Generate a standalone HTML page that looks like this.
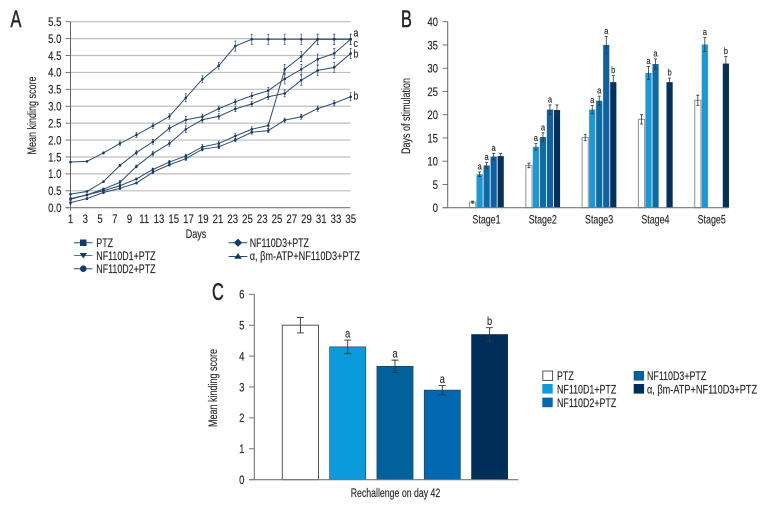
<!DOCTYPE html>
<html>
<head>
<meta charset="utf-8">
<style>
html,body{margin:0;padding:0;background:#fff;width:780px;height:516px;overflow:hidden}
svg{display:block}
text{font-family:"Liberation Sans",sans-serif;fill:#262626;stroke:#262626;stroke-width:.15}
.big{stroke-width:.5}
</style>
</head>
<body>
<svg id="fig" width="780" height="516" viewBox="0 0 780 516" xmlns="http://www.w3.org/2000/svg">
  <rect width="780" height="516" fill="#fff"/>
  <g id="panelA"></g>
  <g id="panelB"></g>
  <g id="panelC"></g>

  <text class="big" transform="translate(10.5,27) scale(.68,1)" font-size="24">A</text>
  <text class="big" transform="translate(401,27) scale(.68,1)" font-size="24">B</text>
  <text class="big" transform="translate(212,300) scale(.68,1)" font-size="24">C</text>

  <text transform="translate(36,115.5) rotate(-90) scale(.75,1)" font-size="12" text-anchor="middle">Mean kinding score</text>
  <text transform="translate(196,238) scale(.75,1)" font-size="12" text-anchor="middle">Days</text>
  <text transform="translate(410,116) rotate(-90) scale(.75,1)" font-size="12" text-anchor="middle">Days of stimulation</text>
  <text transform="translate(217,388) rotate(-90) scale(.75,1)" font-size="12" text-anchor="middle">Mean kinding score</text>
  <text transform="translate(395.5,497) scale(.73,1)" font-size="12" text-anchor="middle">Rechallenge on day 42</text>

  <g stroke-width="1">
    <g>
      <line x1="74" x2="92.5" y1="242.7" y2="242.7" stroke="#2c4a70"/><rect x="80" y="239.5" width="6.5" height="6.5" fill="#123a68"/>
      <text transform="translate(96.3,246.8) scale(.74,1)" font-size="12">PTZ</text>
    </g>
    <g>
      <line x1="74" x2="92.5" y1="255.5" y2="255.5" stroke="#5a7592"/><path d="M79.7 253H87L83.3 258.5Z" fill="#123a68"/>
      <text transform="translate(96.3,260) scale(.74,1)" font-size="12">NF110D1+PTZ</text>
    </g>
    <g>
      <line x1="74" x2="92.5" y1="268.7" y2="268.7" stroke="#2c4a70"/><circle cx="83.3" cy="268.7" r="3.3" fill="#123a68"/>
      <text transform="translate(96.3,273) scale(.74,1)" font-size="12">NF110D2+PTZ</text>
    </g>
    <g>
      <line x1="228.7" x2="247.3" y1="242.7" y2="242.7" stroke="#2c4a70"/><path d="M238 238.6L242.2 242.7L238 246.8L233.8 242.7Z" fill="#123a68"/>
      <text transform="translate(249.7,247) scale(.74,1)" font-size="12">NF110D3+PTZ</text>
    </g>
    <g>
      <line x1="228.7" x2="247.3" y1="256.5" y2="256.5" stroke="#2c4a70"/><path d="M238 253L241.8 258.8H234.2Z" fill="#123a68"/>
      <text transform="translate(249.7,260) scale(.765,1)" font-size="12">α, βm-ATP+NF110D3+PTZ</text>
    </g>
  </g>

  <g>
    <g>
      <rect x="542.8" y="371" width="9.8" height="9.4" fill="#fff" stroke="#444" stroke-width=".9"/>
      <text transform="translate(557,379.8) scale(.74,1)" font-size="12">PTZ</text>
    </g>
    <g>
      <rect x="542.3" y="384" width="10.4" height="9.6" fill="#0a9bdc"/>
      <text transform="translate(557,393.3) scale(.74,1)" font-size="12">NF110D1+PTZ</text>
    </g>
    <g>
      <rect x="542.3" y="397.6" width="10.4" height="9.6" fill="#0168b0"/>
      <text transform="translate(557,407) scale(.74,1)" font-size="12">NF110D2+PTZ</text>
    </g>
    <g>
      <rect x="633.7" y="371" width="10.4" height="9.6" fill="#02619c"/>
      <text transform="translate(647,379.8) scale(.74,1)" font-size="12">NF110D3+PTZ</text>
    </g>
    <g>
      <rect x="633.7" y="384" width="10.4" height="9.6" fill="#002d59"/>
      <text transform="translate(647,393.3) scale(.765,1)" font-size="12">α, βm-ATP+NF110D3+PTZ</text>
    </g>
  </g>
</svg>
<script>
/* Panel A data */
const aTickValues = [0,0.5,1,1.5,2,2.5,3,3.5,4,4.5,5,5.5];
const aTickLabels = ['0.0','0.5','1.0','1.5','2.0','2.5','3.0','3.5','4.0','4.5','5.0','5.5'];
const aDayLabels = ['1','3','5','7','9','11','13','15','17','19','21','23','25','23','25','27','29','31','33','35'];
const aPtz = [1.35,1.37,1.62,1.9,2.15,2.42,2.7,3.25,3.8,4.2,4.78,4.98,4.98,4.98,4.98,4.98,4.98,4.98];
const aPtzErr = [.02,.02,.03,.07,.07,.08,.08,.12,.1,.1,.15,.15,.15,.15,.15,.15,.15,.15];
const aD1 = [.25,.38,.5,.65,.85,1.13,1.35,1.53,1.8,1.9,2.12,2.32,2.43,4.09,4.47,4.98,4.98,4.98];
const aD1Err = [.03,.03,.03,.03,.03,.04,.05,.05,.07,.07,.07,.07,.08,.15,.15,.15,.15,.15];
const aD2 = [.4,.48,.77,1.25,1.63,1.95,2.35,2.6,2.69,2.93,3.13,3.31,3.46,3.81,4.09,4.39,4.56,4.98];
const aD2Err = [.02,.02,.02,.03,.07,.07,.09,.1,.08,.08,.08,.09,.1,.15,.15,.15,.15,.15];
const aD3 = [.27,.38,.55,.75,1.22,1.6,1.9,2.32,2.6,2.7,2.92,3.07,3.28,3.38,3.77,4.06,4.15,4.56];
const aD3Err = [.03,.03,.03,.06,.04,.07,.08,.1,.07,.08,.08,.07,.08,.1,.15,.15,.15,.15];
const aAtp = [.15,.27,.45,.57,.73,1.05,1.27,1.45,1.73,1.8,2,2.23,2.28,2.59,2.69,2.93,3.09,3.28];
const aAtpErr = [.05,.03,.03,.03,.03,.04,.04,.05,.05,.05,.05,.06,.06,.06,.07,.08,.08,.12];
const aEndLetters = ['a','c','b','b'];
const aEndValues = [5.16,4.86,4.55,3.3];

/* Panel B data */
const bTickValues = [0,5,10,15,20,25,30,35,40];
const bStages = ['Stage1','Stage2','Stage3','Stage4','Stage5'];
const bPtz = [1.2,9.1,15.1,19,23.1];
const bD1 = [7.2,13.1,21.1,29,35.1];
const bD2 = [9.1,15.2,23,30.9,0];
const bD3 = [11,21.1,35,0,0];
const bAtp = [11.1,21,27,27,31];
const bPtzErr = [.2,.5,.7,1,1.1];
const bD1Err = [.5,.7,.9,1.4,1.5];
const bD2Err = [.6,.9,1,1.1,0];
const bD3Err = [.7,1,1.8,0,0];
const bAtpErr = [.6,1.1,1.4,.9,1.5];
const bD1Marks = ['a','a','a','a','a'];
const bD2Marks = ['a','a','a','a',''];
const bD3Marks = ['a','a','a','',''];
const bAtpMarks = ['','','b','b','b'];

/* Panel C data */
const cTickValues = [0,1,2,3,4,5,6];
const cGroups = ['PTZ','NF110D1+PTZ','NF110D3+PTZ','NF110D2+PTZ','α, βm-ATP+NF110D3+PTZ'];
const cValues = [5,4.3,3.67,2.9,4.7];
const cErrors = [.25,.22,.2,.15,.22];
const cMarks = ['','a','a','a','b'];

const NS = 'http://www.w3.org/2000/svg';
function mk(tag, attrs, parent){
  const e = document.createElementNS(NS, tag);
  for (const k in attrs) e.setAttribute(k, attrs[k]);
  parent.appendChild(e);
  return e;
}
function label(parent, x, y, str, size, anchor, sx){
  const e = mk('text', {transform:`translate(${x},${y}) scale(${sx||.8},1)`, 'font-size':size, 'text-anchor':anchor}, parent);
  e.textContent = str;
  return e;
}

/* ---------- Panel A ---------- */
const pa = document.getElementById('panelA');
const ay = v => 207.7 - v * 33.82;
const ax = i => 70.5 + i * 16.48;
const adx = i => 70.5 + i * 14.75;
aTickValues.forEach((v,i) => {
  if (v > 0) {
    const g = mk('line', {x1:70.5, x2:350.5, y1:ay(v), y2:ay(v), stroke:'#bdbdbd', 'stroke-width':1.2}, pa);
    
    
  }
  const t = mk('line', {x1:65.5, x2:70.5, y1:ay(v), y2:ay(v), stroke:'#666', 'stroke-width':.9}, pa);
  
  
  const l = label(pa, 61.5, ay(v)+4.3, aTickLabels[i], 12, 'end');
  
  
});
const aAxisY = mk('line', {x1:70.5, x2:70.5, y1:ay(5.5), y2:ay(0)+3, stroke:'#666', 'stroke-width':1}, pa);


const aAxisX = mk('line', {x1:65.5, x2:350.5, y1:ay(0), y2:ay(0), stroke:'#777', 'stroke-width':1.2}, pa);


aDayLabels.forEach((d,i) => {
  const l = label(pa, adx(i), 223, d, 12, 'middle');
  
  
});
const aSeries = [[aD1,aD1Err,'d1'],[aD2,aD2Err,'d2'],[aD3,aD3Err,'d3'],[aAtp,aAtpErr,'atp'],[aPtz,aPtzErr,'ptz']];
aSeries.forEach(s => {
  const vals = s[0], errs = s[1];
  const line = mk('polyline', {points:vals.map((v,i)=>ax(i)+','+ay(v)).join(' '), fill:'none', stroke:'#2c4c73', 'stroke-width':1}, pa);
  
  
  vals.forEach((v,i) => {
    const g = mk('path', {d:`M${ax(i)} ${ay(v+errs[i])}V${ay(v-errs[i])}M${ax(i)-1} ${ay(v+errs[i])}h2M${ax(i)-1} ${ay(v-errs[i])}h2`, stroke:'#2c4c73', 'stroke-width':.7, fill:'none'}, pa);
    
    
    const p = mk('circle', {cx:ax(i), cy:ay(v), r:1.3, fill:'#123a68'}, pa);
    
    
  });
});
aEndLetters.forEach((c,i) => {
  const l = label(pa, 353.5, ay(aEndValues[i])+3.5, c, 11, 'start');
  
  
});

/* ---------- Panel B ---------- */
const pb = document.getElementById('panelB');
const by = v => 207.7 - v * 4.65;
const bgx = i => 469.5 + i * 56.3;
bTickValues.forEach(v => {
  const t = mk('line', {x1:442.5, x2:447.7, y1:by(v), y2:by(v), stroke:'#666', 'stroke-width':.9}, pb);
  
  
  const l = label(pb, 438, by(v)+4.3, String(v), 12, 'end');
  
  
});
const bSeries = [
  [bPtz,bPtzErr,null,'#fff'],
  [bD1,bD1Err,bD1Marks,'#1b98d5'],
  [bD2,bD2Err,bD2Marks,'#0f6ba5'],
  [bD3,bD3Err,bD3Marks,'#0e62a3'],
  [bAtp,bAtpErr,bAtpMarks,'#04305c']
];
bSeries.forEach((s,si) => {
  s[0].forEach((v,gi) => {
    const x = bgx(gi) + si * 7.02, w = 6.2;
    const attrs = {x:x, y:by(v), width:w, height:by(0)-by(v), fill:s[3]};
    if (si === 0) { attrs.stroke = '#9a9a9a'; attrs['stroke-width'] = 1.1; }
    const r = mk('rect', attrs, pb);
    
    
    const e = s[1][gi];
    if (e > 0) {
      const c = x + w/2;
      const g = mk('path', {d:`M${c} ${by(v+e)}V${by(v-e)}M${c-1.5} ${by(v+e)}h3M${c-1.5} ${by(v-e)}h3`, stroke:'#333', 'stroke-width':.8, fill:'none'}, pb);
      
      
    }
    if (s[2] && s[2][gi]) {
      const l = label(pb, x + w/2, by(v+e)-2.5, s[2][gi], 9.5, 'middle');
      
      
    }
  });
});
const bAxisY = mk('line', {x1:447.7, x2:447.7, y1:by(40), y2:by(0), stroke:'#666', 'stroke-width':1}, pb);


const bAxisX = mk('line', {x1:442.5, x2:728.5, y1:by(0), y2:by(0), stroke:'#777', 'stroke-width':1.2}, pb);


bStages.forEach((st,i) => {
  const l = label(pb, bgx(i)+17, 223.3, st, 12, 'middle', .74);
  
  
});

/* ---------- Panel C ---------- */
const pc = document.getElementById('panelC');
const cy = v => 479.7 - v * 30.9;
const cx = i => 282.3 + i * 47.3;
const cFills = ['#fff','#0a9bdc','#02619c','#0168b0','#002d59'];
cTickValues.forEach(v => {
  const t = mk('line', {x1:249, x2:254.3, y1:cy(v), y2:cy(v), stroke:'#666', 'stroke-width':.9}, pc);
  
  
  const l = label(pc, 244.5, cy(v)+4.3, String(v), 12, 'end');
  
  
});
cValues.forEach((v,i) => {
  const x = cx(i), w = 36.2;
  const r = mk('rect', {x:x, y:cy(v), width:w, height:cy(0)-cy(v), fill:cFills[i], stroke:i===0?'#555':'#1a3a55', 'stroke-width':i===0?1:.6}, pc);
  
  
  const c = x + w/2, e = cErrors[i];
  const g = mk('path', {d:`M${c} ${cy(v+e)}V${cy(v-e)}M${c-3.5} ${cy(v+e)}h7M${c-3.5} ${cy(v-e)}h7`, stroke:'#333', 'stroke-width':.9, fill:'none'}, pc);
  
  
  if (cMarks[i]) {
    const l = label(pc, c, cy(v+e)-2.5, cMarks[i], 11.5, 'middle');
    
    
  }
});
const cAxisY = mk('line', {x1:254.3, x2:254.3, y1:cy(6), y2:cy(0), stroke:'#666', 'stroke-width':1}, pc);


const cAxisX = mk('line', {x1:249, x2:518.5, y1:cy(0), y2:cy(0), stroke:'#777', 'stroke-width':1.2}, pc);


</script>
</body>
</html>
